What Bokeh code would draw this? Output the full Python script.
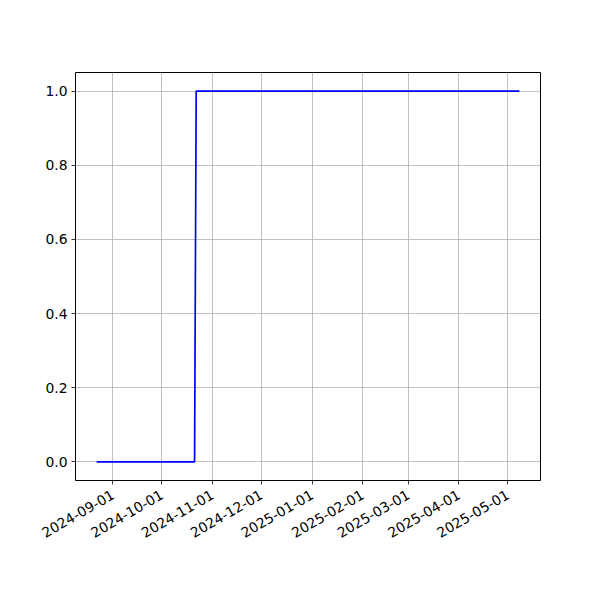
import math
from datetime import datetime
from bokeh.plotting import figure
from bokeh.models import FixedTicker, Range1d
from bokeh.embed import file_html
from bokeh.resources import INLINE

# data
dates = ["2024-08-22", "2024-10-21", "2024-10-22", "2025-05-08"]
values = [0, 0, 1, 1]
tick_labels = ["2024-09-01", "2024-10-01", "2024-11-01", "2024-12-01", "2025-01-01",
               "2025-02-01", "2025-03-01", "2025-04-01", "2025-05-01"]
y_ticks = [0.0, 0.2, 0.4, 0.6, 0.8, 1.0]

EPOCH = datetime(1970, 1, 1)
def ms(s):
    return (datetime.strptime(s, "%Y-%m-%d") - EPOCH).total_seconds() * 1000.0

x = [ms(d) for d in dates]
xmin, xmax = min(x), max(x)
pad = (xmax - xmin) * 0.05

p = figure(width=592, height=592, output_backend="svg", toolbar_location=None,
           x_axis_type="datetime",
           x_range=Range1d(xmin - pad, xmax + pad), y_range=Range1d(-0.05, 1.05),
           min_border_left=75, min_border_right=52, min_border_top=72, min_border_bottom=112)

p.line(x, values, line_color="blue", line_width=1.7)

tick_ms = [ms(t) for t in tick_labels]
p.xaxis.ticker = FixedTicker(ticks=tick_ms)
p.xaxis.major_label_overrides = {t: l for t, l in zip(tick_ms, tick_labels)}
p.xaxis.major_label_orientation = math.pi / 6
p.yaxis.ticker = FixedTicker(ticks=y_ticks)
p.yaxis.major_label_overrides = {v: f"{v:.1f}" for v in y_ticks}

for ax in (p.xaxis[0], p.yaxis[0]):
    ax.axis_line_color = None
    ax.major_tick_line_color = "black"
    ax.major_tick_line_width = 0.8
    ax.major_tick_out = 4
    ax.major_tick_in = 0
    ax.minor_tick_line_color = None
    ax.major_label_text_font = "DejaVu Sans"
    ax.major_label_text_font_size = "13.9px"
    ax.major_label_text_color = "black"
    ax.major_label_standoff = 4
p.xaxis.major_label_standoff = 9

p.grid.grid_line_color = "#b0b0b0"
p.grid.grid_line_width = 0.8
p.outline_line_color = "black"
p.outline_line_width = 1
p.outline_line_alpha = 1
p.background_fill_color = "white"
p.border_fill_color = "white"

open("out.html", "w").write(file_html(p, INLINE))
